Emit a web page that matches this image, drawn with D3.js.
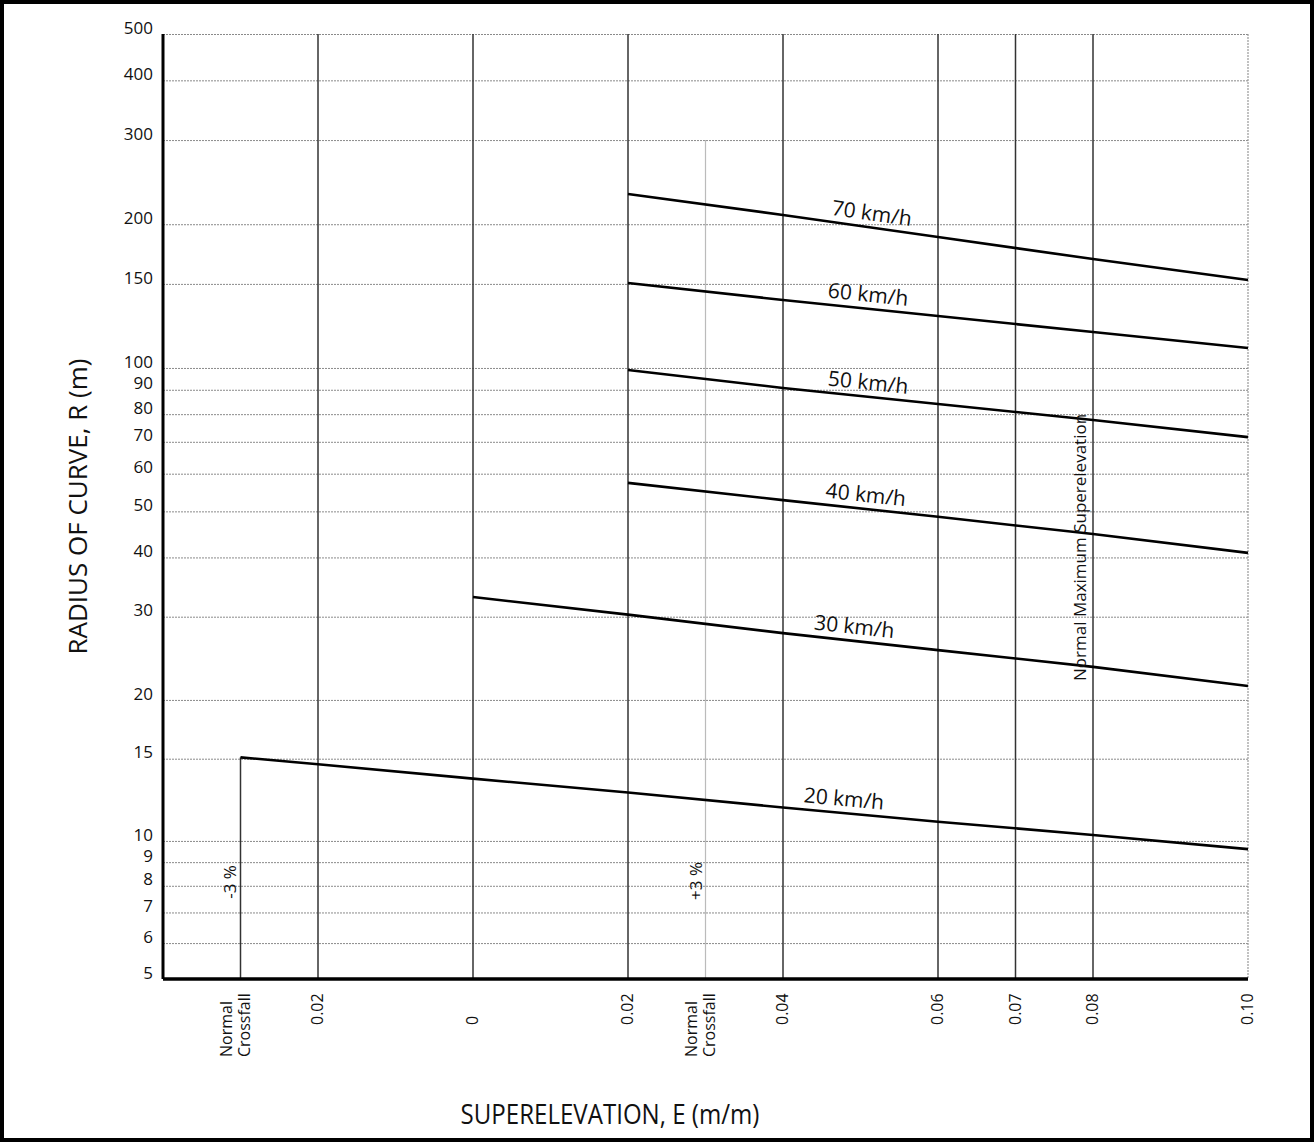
<!DOCTYPE html>
<html>
<head>
<meta charset="utf-8">
<script src="https://cdn.jsdelivr.net/npm/d3@7"></script>
<style>
body { margin: 0; background: #fff; }
text { font-family: "Open Sans", sans-serif; fill: #111; }
</style>
</head>
<body>
<script>
// ticks on the superelevation axis (left part is adverse crossfall)
var e_ticks = [-0.03, -0.02, 0, 0.02, 0.03, 0.04, 0.06, 0.07, 0.08, 0.10]
var e_labels = [["Normal", "Crossfall"], ["0.02"], ["0"], ["0.02"], ["Normal", "Crossfall"], ["0.04"], ["0.06"], ["0.07"], ["0.08"], ["0.10"]]
var e_dark = [-0.02, 0, 0.02, 0.04, 0.06, 0.07, 0.08]
var r_ticks = [500, 400, 300, 200, 150, 100, 90, 80, 70, 60, 50, 40, 30, 20, 15, 10, 9, 8, 7, 6, 5]

// design speed curves, radius
var speeds = ["20 km/h", "30 km/h", "40 km/h", "50 km/h", "60 km/h", "70 km/h"]
var e_20 = [-0.03, -0.02, 0, 0.02, 0.04, 0.06, 0.08, 0.10]
var r_20 = [15.1, 14.6, 13.6, 12.7, 11.8, 11.0, 10.3, 9.6]
var e_30 = [0, 0.02, 0.04, 0.06, 0.08, 0.10]
var r_30 = [33.0, 30.3, 27.7, 25.5, 23.5, 21.4]
var e_hi = [0.02, 0.04, 0.06, 0.08, 0.10]
var r_40 = [57.4, 52.8, 48.7, 44.8, 40.9]
var r_50 = [99.0, 90.8, 84.0, 77.8, 71.6]
var r_60 = [150.6, 138.8, 128.5, 118.9, 110.1]
var r_70 = [231.3, 209.1, 188.0, 169.1, 152.8]
var label_e = [0.0477, 0.0490, 0.0505, 0.0508, 0.0508, 0.0512]

var series = [
    {name: speeds[0], e: e_20, r: r_20, le: label_e[0]},
    {name: speeds[1], e: e_30, r: r_30, le: label_e[1]},
    {name: speeds[2], e: e_hi, r: r_40, le: label_e[2]},
    {name: speeds[3], e: e_hi, r: r_50, le: label_e[3]},
    {name: speeds[4], e: e_hi, r: r_60, le: label_e[4]},
    {name: speeds[5], e: e_hi, r: r_70, le: label_e[5]}
]

const MARGIN = { LEFT: 163, RIGHT: 66, TOP: 34, BOTTOM: 163 }
const W = 1314, H = 1142
const WIDTH = W - MARGIN.LEFT - MARGIN.RIGHT
const HEIGHT = H - MARGIN.TOP - MARGIN.BOTTOM

const svg = d3.select("body").append("svg")
    .attr("width", W)
    .attr("height", H)

// outer frame
svg.append("rect")
    .attr("x", 2).attr("y", 2)
    .attr("width", W - 4).attr("height", H - 4)
    .attr("fill", "none")
    .attr("stroke", "#000")
    .attr("stroke-width", 4)

const g = svg.append("g")
    .attr("transform", "translate(" + MARGIN.LEFT + "," + MARGIN.TOP + ")")

var x = d3.scaleLinear().domain([-0.04, 0.10]).range([0, WIDTH])
// scanned log paper is a bit uneven, a symlog with small constant follows it better
var y = d3.scaleSymlog().constant(0.3).domain([5, 500]).range([HEIGHT, 0])

// horizontal grid
g.append("g")
    .call(d3.axisLeft(y).tickValues(r_ticks).tickSize(-WIDTH).tickFormat(""))
    .call(a => a.select(".domain").remove())
    .selectAll("line")
    .attr("stroke", "#8a8a8a")
    .attr("stroke-width", 1)
    .attr("stroke-dasharray", "2,1")

// y labels
g.append("g")
    .call(d3.axisLeft(y).tickValues(r_ticks).tickSize(0).tickPadding(10))
    .call(a => a.select(".domain").remove())
    .selectAll("text")
    .attr("dy", "-0.05em")
    .style("font-size", "17px")
    .style("font-family", "Open Sans, sans-serif")
    .attr("fill", "#111")

// vertical grid
g.selectAll(".vline")
    .data(e_dark)
    .enter()
    .append("line")
    .attr("x1", d => x(d)).attr("x2", d => x(d))
    .attr("y1", y(500)).attr("y2", y(5))
    .attr("stroke", "#333")
    .attr("stroke-width", 1.5)

g.append("line")
    .attr("x1", x(0.10)).attr("x2", x(0.10))
    .attr("y1", y(500)).attr("y2", y(5))
    .attr("stroke", "#999")
    .attr("stroke-width", 1.2)
    .attr("stroke-dasharray", "2,1")

// +3 % normal crossfall (light)
g.append("line")
    .attr("x1", x(0.03)).attr("x2", x(0.03))
    .attr("y1", y(300)).attr("y2", y(5))
    .attr("stroke", "#bbb")
    .attr("stroke-width", 1.2)

// -3 % normal crossfall up to the 20 km/h curve
g.append("line")
    .attr("x1", x(-0.03)).attr("x2", x(-0.03))
    .attr("y1", y(r_20[0])).attr("y2", y(5))
    .attr("stroke", "#333")
    .attr("stroke-width", 1.5)

// speed curves
var line = d3.line().x(d => x(d[0])).y(d => y(d[1]))
series.forEach(function(s){
    var pts = s.e.map((e, i) => [e, s.r[i]])
    g.append("path")
        .attr("d", line(pts))
        .attr("fill", "none")
        .attr("stroke", "#000")
        .attr("stroke-width", 2.6)

    // label sits along the curve
    var i = 0
    while (i < s.e.length - 2 && s.e[i + 1] < s.le) i++
    var x0 = x(s.e[i]), x1 = x(s.e[i + 1])
    var y0 = y(s.r[i]), y1 = y(s.r[i + 1])
    var t = (x(s.le) - x0) / (x1 - x0)
    var px = x(s.le), py = y0 + t * (y1 - y0)
    var ang = Math.atan2(y1 - y0, x1 - x0) * 180 / Math.PI
    g.append("text")
        .attr("transform", "translate(" + px + "," + py + ") rotate(" + ang + ")")
        .attr("y", -7)
        .attr("text-anchor", "middle")
        .style("font-size", "21px")
        .text(s.name)
})

// axes
g.append("line")
    .attr("x1", 0).attr("x2", 0)
    .attr("y1", y(500)).attr("y2", y(5))
    .attr("stroke", "#000").attr("stroke-width", 3)
g.append("line")
    .attr("x1", 0).attr("x2", WIDTH)
    .attr("y1", HEIGHT).attr("y2", HEIGHT)
    .attr("stroke", "#000").attr("stroke-width", 3.5)

// x labels, rotated
e_ticks.forEach(function(v, i){
    var lab = e_labels[i]
    var two = lab.length > 1
    var t = g.append("text")
        .attr("transform", "translate(" + x(v) + "," + (HEIGHT + (two ? 78 : 46)) + ") rotate(-90)")
        .attr("text-anchor", "start")
        .style("font-size", "16px")
    lab.forEach(function(l, j){
        t.append("tspan")
            .attr("x", 0)
            .attr("y", two ? (j == 0 ? -9 : 9) : 5)
            .text(l)
    })
})

// percent notes
g.append("text")
    .attr("transform", "translate(" + (x(-0.03) - 5) + "," + (HEIGHT - 97) + ") rotate(-90)")
    .attr("text-anchor", "middle")
    .style("font-size", "17px")
    .text("-3 %")
g.append("text")
    .attr("transform", "translate(" + (x(0.03) - 4) + "," + (HEIGHT - 98) + ") rotate(-90)")
    .attr("text-anchor", "middle")
    .style("font-size", "17px")
    .text("+3 %")
g.append("text")
    .attr("transform", "translate(" + (x(0.08) - 7) + "," + (y(40) - 10) + ") rotate(-90)")
    .attr("text-anchor", "middle")
    .style("font-size", "17px")
    .text("Normal Maximum Superelevation")

// axis titles
svg.append("text")
    .attr("transform", "translate(87," + (MARGIN.TOP + HEIGHT / 2) + ") rotate(-90)")
    .attr("text-anchor", "middle")
    .style("font-size", "26px")
    .text("RADIUS OF CURVE, R (m)")
svg.append("text")
    .attr("transform", "translate(610,1124) scale(0.86,1)")
    .attr("text-anchor", "middle")
    .style("font-size", "28px")
    .text("SUPERELEVATION, E (m/m)")
</script>
</body>
</html>
